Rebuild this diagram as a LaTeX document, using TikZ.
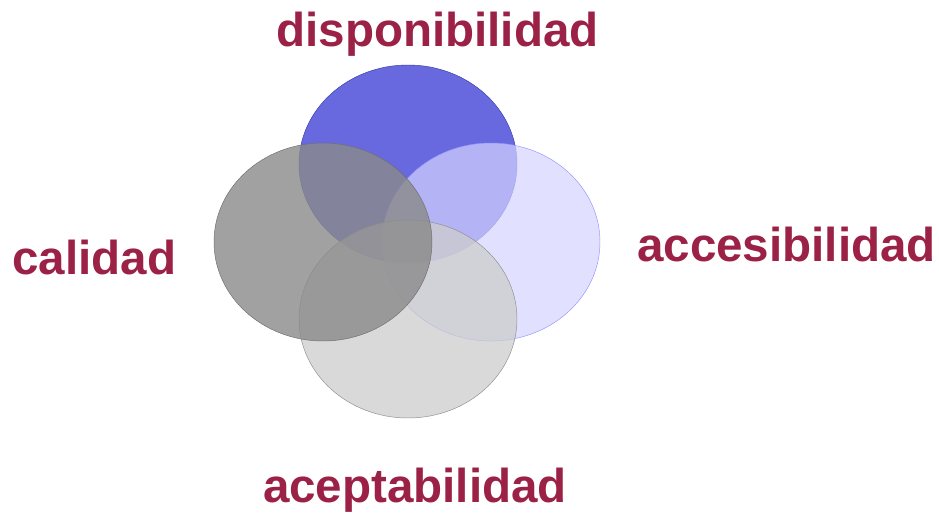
\documentclass[tikz,border=0pt]{standalone}
\usepackage{fontspec}
\setmainfont{Liberation Sans}
\usepackage{xcolor}
\definecolor{dimMaroon}{HTML}{9B2246}
\definecolor{dimBlue}{HTML}{4848D8}
\definecolor{dimLightBlue}{HTML}{D4D4FF}
\definecolor{dimGray}{HTML}{8A8A8A}
\definecolor{dimLightGray}{HTML}{CCCCCC}
\usepackage{tikz}
\tikzset{
    dimlabel/.style={text=dimMaroon,font=\fontsize{40.6}{48}\selectfont\bfseries,anchor=base,inner sep=0pt},
    blueDisk/.style={fill=dimBlue,fill opacity=0.82,draw=dimBlue!80!black,line width=0.4pt},
    lightBlueDisk/.style={fill=dimLightBlue,fill opacity=0.7,draw=dimLightBlue!70!blue,line width=0.4pt},
    grayDisk/.style={fill=dimGray,fill opacity=0.8,draw=dimGray!80!black,line width=0.4pt},
    lightGrayDisk/.style={fill=dimLightGray,fill opacity=0.75,draw=dimLightGray!70!black,line width=0.4pt}
}

\begin{document}
\begin{tikzpicture}[x=0.03cm,y=-0.03cm]
  \useasboundingbox (0,0) rectangle (939,513);

  % radii of the four ellipses
  \def\rx{109}
  \def\ry{99}

  % centres
  \coordinate (top)    at (408,164);
  \coordinate (right)  at (491,242);
  \coordinate (left)   at (323,242);
  \coordinate (bottom) at (408,319);

  % ellipses, back to front
  \draw[blueDisk]      (top)    ellipse[x radius=\rx, y radius=\ry];
  \draw[lightBlueDisk] (right)  ellipse[x radius=\rx, y radius=\ry];
  \draw[lightGrayDisk] (bottom) ellipse[x radius=\rx, y radius=\ry];
  \draw[grayDisk]      (left)   ellipse[x radius=\rx, y radius=\ry];

  % labels
  \node[dimlabel] (disp) at (437.5,47)  {disponibilidad};
  \node[dimlabel] (cal)  at (94.5,275)  {calidad};
  \node[dimlabel] (acc)  at (786.5,262) {accesibilidad};
  \node[dimlabel] (acep) at (415,503)   {aceptabilidad};
\end{tikzpicture}
\end{document}
